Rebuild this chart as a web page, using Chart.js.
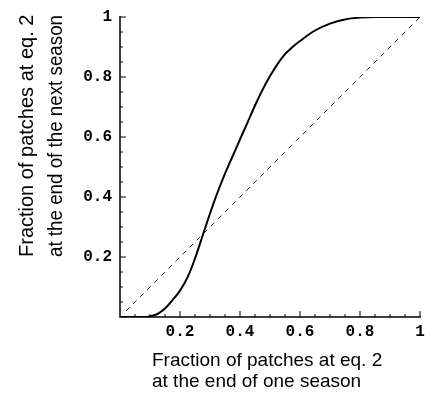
<!DOCTYPE html>
<html>
<head>
<meta charset="utf-8">
<script src="https://cdn.jsdelivr.net/npm/chart.js@4"></script>
<style>
  html, body { margin: 0; padding: 0; background: #fff; }
  #wrap { width: 425px; height: 405px; }
</style>
</head>
<body>
<div id="wrap"><canvas id="myChart"></canvas></div>
<script>
// fraction at end of one season (x) -> fraction at end of next season (y)
var curveX = [0, 0.05, 0.09, 0.1, 0.125, 0.15, 0.175, 0.2, 0.225, 0.25, 0.275, 0.3, 0.325, 0.35, 0.375, 0.4, 0.425, 0.45, 0.475, 0.5, 0.525, 0.55, 0.575, 0.6, 0.65, 0.7, 0.75, 0.8, 0.85, 0.9, 1];
var curveY = [0, 0, 0, 0.002, 0.01, 0.028, 0.056, 0.088, 0.132, 0.195, 0.27, 0.345, 0.415, 0.478, 0.535, 0.592, 0.648, 0.705, 0.757, 0.803, 0.843, 0.876, 0.9, 0.92, 0.955, 0.978, 0.992, 0.998, 1, 1, 1];
var diagX = [0.02, 1];
var diagY = [0.02, 1];
var xTicks = [0.2, 0.4, 0.6, 0.8, 1];
var yTicks = [0.2, 0.4, 0.6, 0.8, 1];
var xTitle = ['Fraction of patches at eq. 2', 'at the end of one season'];
var yTitle = ['Fraction of patches at eq. 2', 'at the end of the next season'];

function pts(xs, ys) {
    return xs.map(function (x, i) { return { x: x, y: ys[i] }; });
}

function tickLabel(v) {
    return v === 1 ? '1' : v.toFixed(1);
}

// draws the Mathematica-style axes, ticks and titles
var axesPlugin = {
    id: 'axesPlugin',
    afterDraw: function (chart) {
        var ctx = chart.ctx;
        var xs = chart.scales.x, ys = chart.scales.y;
        var x0 = xs.getPixelForValue(0), x1 = xs.getPixelForValue(1);
        var y0 = ys.getPixelForValue(0), y1 = ys.getPixelForValue(1);
        ctx.save();
        ctx.strokeStyle = '#000';
        ctx.lineWidth = 1.5;
        ctx.beginPath();
        ctx.moveTo(x0, y1 - 1);
        ctx.lineTo(x0, y0);
        ctx.lineTo(x1 + 1, y0);
        ctx.stroke();

        // minor + major ticks
        ctx.lineWidth = 1;
        for (var i = 1; i <= 20; i++) {
            var v = i / 20;
            var len = (i % 4 === 0) ? 6 : 3;
            var px = xs.getPixelForValue(v);
            ctx.beginPath();
            ctx.moveTo(px, y0);
            ctx.lineTo(px, y0 - len);
            ctx.stroke();
            var py = ys.getPixelForValue(v);
            ctx.beginPath();
            ctx.moveTo(x0, py);
            ctx.lineTo(x0 + len, py);
            ctx.stroke();
        }

        ctx.fillStyle = '#000';
        ctx.font = 'bold 16px "Liberation Mono", monospace';
        ctx.textAlign = 'center';
        ctx.textBaseline = 'middle';
        xTicks.forEach(function (v) {
            ctx.fillText(tickLabel(v), xs.getPixelForValue(v), y0 + 15);
        });
        ctx.textAlign = 'right';
        yTicks.forEach(function (v) {
            ctx.fillText(tickLabel(v), x0 - 8, ys.getPixelForValue(v));
        });

        // axis titles
        ctx.font = '19px "Liberation Sans", Arial, sans-serif';
        ctx.textAlign = 'left';
        ctx.textBaseline = 'alphabetic';
        ctx.fillText(xTitle[0], 152, 366);
        ctx.fillText(xTitle[1], 152, 387);

        ctx.save();
        ctx.translate(0, 257);
        ctx.rotate(-Math.PI / 2);
        ctx.font = '20px "Liberation Sans", Arial, sans-serif';
        ctx.fillText(yTitle[0], 0, 33, 244);
        ctx.fillText(yTitle[1], 0, 62, 242);
        ctx.restore();
        ctx.restore();
    }
};

var ctx = document.getElementById('myChart').getContext('2d');
var myChart = new Chart(ctx, {
    type: 'line',
    data: {
        datasets: [
            {
                label: 'next season',
                data: pts(curveX, curveY),
                borderColor: '#000',
                borderWidth: 2,
                pointRadius: 0,
                cubicInterpolationMode: 'monotone',
                fill: false
            },
            {
                label: 'diagonal',
                data: pts(diagX, diagY),
                borderColor: '#333',
                borderWidth: 1,
                borderDash: [5, 5],
                pointRadius: 0,
                fill: false
            }
        ]
    },
    options: {
        responsive: true,
        maintainAspectRatio: false,
        animation: false,
        layout: { padding: { left: 120, right: 5, top: 17, bottom: 88 } },
        scales: {
            x: { type: 'linear', min: 0, max: 1, display: false },
            y: { type: 'linear', min: 0, max: 1, display: false }
        },
        plugins: {
            legend: { display: false },
            tooltip: { enabled: false }
        }
    },
    plugins: [axesPlugin]
});
</script>
</body>
</html>
